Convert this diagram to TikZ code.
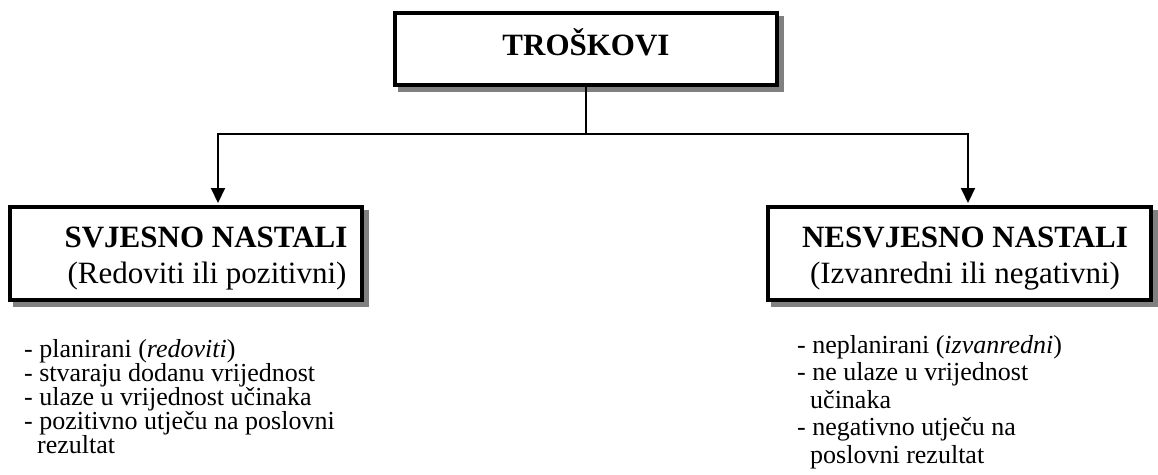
\documentclass[tikz,border=0pt]{standalone}
\usepackage{fontspec}
\setmainfont{Liberation Serif}
\usetikzlibrary{arrows.meta,shadows,calc}
\begin{document}
\begin{tikzpicture}[x=1pt,y=-1pt,
  box/.style={draw=black,line width=4pt,fill=white,inner sep=0pt,
    drop shadow={shadow xshift=4.5pt,shadow yshift=-5pt,fill=black!50,draw=black!50,line width=4pt,opacity=1}},
  head/.style={font=\fontsize{31}{36}\selectfont\bfseries,anchor=base,inner sep=0pt},
  sub/.style={font=\fontsize{31}{36}\selectfont,anchor=base,inner sep=0pt},
  item/.style={font=\fontsize{26}{28}\selectfont,anchor=base west,inner sep=0pt},
  conn/.style={line width=2pt},
  arr/.style={conn,-{Triangle[width=14pt,length=15pt]},shorten >=2pt}
]
\useasboundingbox (0,0) rectangle (1158,474);
% boxes
\node[box,minimum width=382pt,minimum height=72pt] (top) at (586,49) {};
\node[head] (toptxt) at (586,55) {TROŠKOVI};
\node[box,minimum width=352pt,minimum height=93pt] (lbox) at (186,253.5) {};
\node[head] (lh) at (206,247) {SVJESNO NASTALI};
\node[sub] (ls) at (207,283) {(Redoviti ili pozitivni)};
\node[box,minimum width=383pt,minimum height=93pt] (rbox) at (959.5,253.5) {};
\node[head] (rh) at (965,247) {NESVJESNO NASTALI};
\node[sub] (rs) at (965,283) {(Izvanredni ili negativni)};
% connectors
\coordinate (jm) at (586,134);
\coordinate (jl) at (218,134);
\coordinate (jr) at (968,134);
\draw[conn] (top.south) -- (jm);
\draw[arr] (jm) -- (jl) -- (jl |- lbox.north);
\draw[arr] (jm) -- (jr) -- (jr |- rbox.north);
% lists
\node[item] (l1) at (24,357) {- planirani (\textit{redoviti})};
\node[item] (l2) at (24,381) {- stvaraju dodanu vrijednost};
\node[item] (l3) at (24,405) {- ulaze u vrijednost učinaka};
\node[item] (l4) at (24,429) {- pozitivno utječu na poslovni};
\node[item] (l5) at (37,453) {rezultat};
\node[item] (r1) at (797,353) {- neplanirani (\textit{izvanredni})};
\node[item] (r2) at (797,380.5) {- ne ulaze u vrijednost};
\node[item] (r3) at (810,408) {učinaka};
\node[item] (r4) at (797,435.5) {- negativno utječu na};
\node[item] (r5) at (810,463) {poslovni rezultat};
\end{tikzpicture}
\end{document}
